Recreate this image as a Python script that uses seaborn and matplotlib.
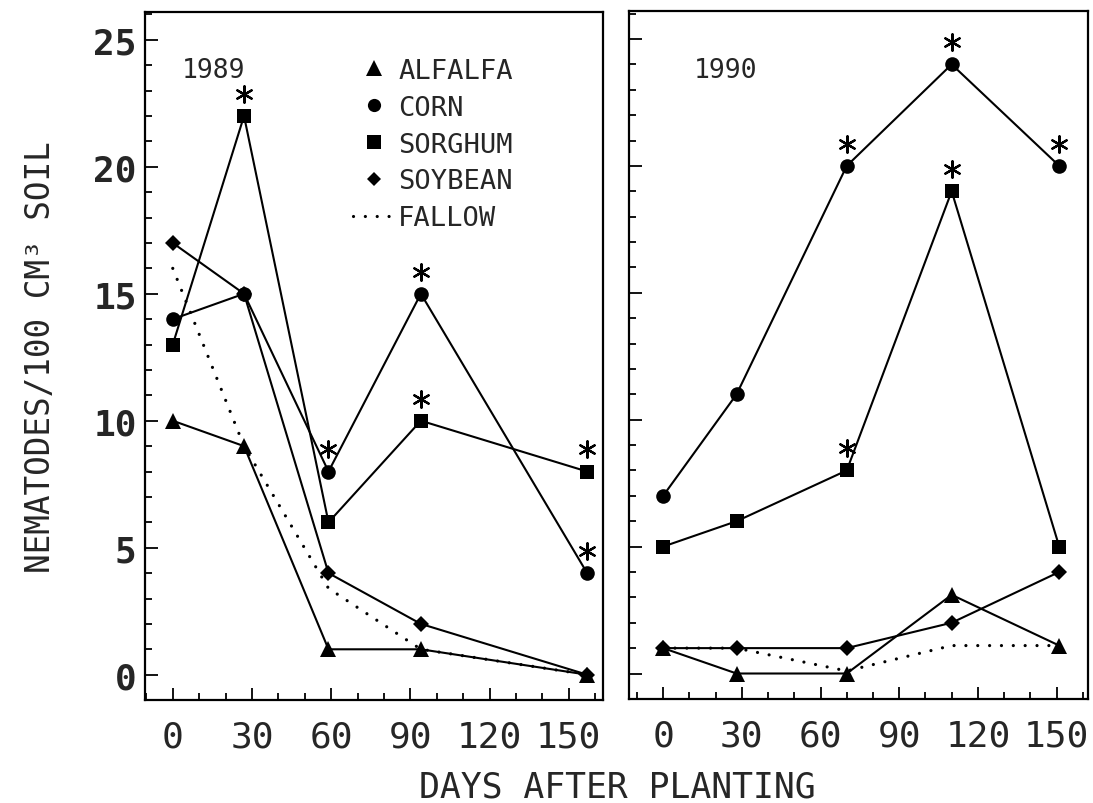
import pandas as pd
import numpy as np
import matplotlib
matplotlib.use('Agg')
import matplotlib.pyplot as plt
import matplotlib.transforms as mtransforms
from matplotlib.lines import Line2D
from matplotlib.ticker import MultipleLocator
import seaborn as sns

# --- data ---
crops = ['ALFALFA', 'CORN', 'SORGHUM', 'SOYBEAN', 'FALLOW']

days_1989 = [0, 27, 59, 94, 157]
alfalfa_1989 = [10, 9, 1, 1, 0]
corn_1989 = [14, 15, 8, 15, 4]
sorghum_1989 = [13, 22, 6, 10, 8]
soybean_1989 = [17, 15, 4, 2, 0]
fallow_1989 = [16, 9, 3.4, 1, 0]

days_1990 = [0, 28, 70, 110, 151]
alfalfa_1990 = [1, 0, 0, 3.1, 1.1]
corn_1990 = [7, 11, 20, 24, 20]
sorghum_1990 = [5, 6, 8, 19, 5]
soybean_1990 = [1, 1, 1, 2, 4]
fallow_1990 = [1, 1, 0.1, 1.1, 1.1]

# asterisks (significant differences)
sig_corn_1989 = [False, False, True, True, True]
sig_sorghum_1989 = [False, True, False, True, True]
sig_corn_1990 = [False, False, True, True, True]
sig_sorghum_1990 = [False, False, True, True, False]

markers = {'ALFALFA': ('^', 12), 'CORN': ('o', 10.5),
           'SORGHUM': ('s', 10.5), 'SOYBEAN': ('D', 8.5)}

sns.set_style('ticks')
plt.rcParams['font.family'] = ['DejaVu Sans Mono']

fig = plt.figure(figsize=(10.93, 8.04), dpi=100)
ax1 = fig.add_axes([0.1327, 0.128, 0.419, 0.856])
ax2 = fig.add_axes([0.5755, 0.1295, 0.42, 0.8555])

panels = [
    (ax1, days_1989, [alfalfa_1989, corn_1989, sorghum_1989, soybean_1989, fallow_1989],
     {'CORN': sig_corn_1989, 'SORGHUM': sig_sorghum_1989}, '1989', (-10.5, 163)),
    (ax2, days_1990, [alfalfa_1990, corn_1990, sorghum_1990, soybean_1990, fallow_1990],
     {'CORN': sig_corn_1990, 'SORGHUM': sig_sorghum_1990}, '1990', (-13, 162)),
]

for ax, days, series, sig, year, xlim in panels:
    for crop, vals in zip(crops, series):
        if crop == 'FALLOW':
            sns.lineplot(x=days, y=vals, ax=ax, color='black', linewidth=2.3,
                         linestyle=(0, (0.01, 3.7)), dash_capstyle='round')
        else:
            m, ms = markers[crop]
            sns.lineplot(x=days, y=vals, ax=ax, color='black', linewidth=1.5,
                         marker=m, markersize=ms, markeredgewidth=0)
    star_tr = mtransforms.offset_copy(ax.transData, fig=fig, y=16, units='points')
    for crop, flags in sig.items():
        vals = series[crops.index(crop)]
        sx = [d for d, f in zip(days, flags) if f]
        sy = [v for v, f in zip(vals, flags) if f]
        ax.scatter(sx, sy, marker=(6, 2, 0), s=140, color='black',
                   linewidths=1.6, transform=star_tr)

    ax.text(0.15 if year == '1989' else 0.21, 0.915, year, transform=ax.transAxes,
            fontsize=19, ha='center', va='center')

    ax.set_xlim(*xlim)
    ax.set_ylim(-1.0, 26.1)
    ax.set_xticks([0, 30, 60, 90, 120, 150])
    ax.xaxis.set_minor_locator(MultipleLocator(10))
    ax.set_yticks([0, 5, 10, 15, 20, 25])
    ax.yaxis.set_minor_locator(MultipleLocator(1))
    ax.tick_params(which='both', direction='in', color='black', width=1.3,
                   top=False, right=False)
    ax.tick_params(which='major', length=9)
    ax.tick_params(which='minor', length=5)
    ax.tick_params(axis='x', which='major', labelsize=26, pad=14)
    for sp in ax.spines.values():
        sp.set_linewidth(1.6)
        sp.set_color('black')
        sp.set_visible(True)
    ax.set_xlabel('')
    ax.set_ylabel('')

ax1.tick_params(axis='y', which='major', labelsize=26, pad=6)
for lab in ax1.get_yticklabels():
    lab.set_fontweight('bold')
ax2.tick_params(axis='y', labelleft=False)

ax1.set_ylabel('NEMATODES/100 CM³ SOIL', fontsize=23.5, labelpad=26)
fig.text(0.565, 0.021, 'DAYS AFTER PLANTING', fontsize=25, ha='center', va='center')

handles = [Line2D([], [], linestyle='none', marker=markers[c][0],
                  markersize=markers[c][1] - 1, color='black', markeredgewidth=0)
           for c in crops[:4]]
handles.append(Line2D([], [], color='black', linewidth=2.3,
                      linestyle=(0, (0.01, 3.7)), dash_capstyle='round'))
ax1.legend(handles, crops, loc='upper left', bbox_to_anchor=(0.455, 0.933),
           frameon=False, fontsize=19.5, handlelength=1.5, handletextpad=0.15,
           labelspacing=0.4, borderpad=0, borderaxespad=0)

fig.savefig('out.png', dpi=100, facecolor='white')
